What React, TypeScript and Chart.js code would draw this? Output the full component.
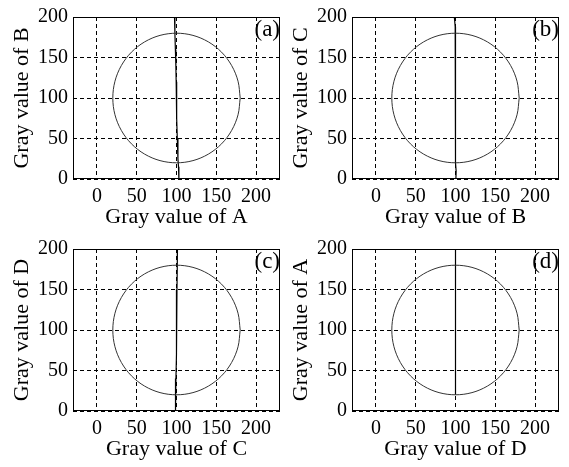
import React, { useEffect, useRef } from "react";
import { Chart, registerables } from "chart.js";

Chart.register(...registerables);

// ---- data ----
const xTicks = [0, 50, 100, 150, 200];
const yTicks = [0, 50, 100, 150, 200];

// circle: centre (100,100), radius 80
const circleX = [180, 177.3, 169.3, 156.6, 140, 120.7, 100, 79.3, 60, 43.4, 30.7, 22.7, 20, 22.7, 30.7, 43.4, 60, 79.3, 100, 120.7, 140, 156.6, 169.3, 177.3, 180];
const circleY = [100, 120.7, 140, 156.6, 169.3, 177.3, 180, 177.3, 169.3, 156.6, 140, 120.7, 100, 79.3, 60, 43.4, 30.7, 22.7, 20, 22.7, 30.7, 43.4, 60, 79.3, 100];

// near-vertical lines in each panel
const lineAX = [97.5, 98, 98.6, 99.2, 99.6, 100, 100.4, 101, 101.8, 102.5, 103];
const lineAY = [200, 180, 160, 140, 120, 100, 75, 50, 25, 15, 0];
const lineBX = [98.5, 99, 99.6, 100, 100, 100, 100.8, 100.5];
const lineBY = [200, 195, 188, 180, 100, 20, 10, 0];
const lineCX = [101.2, 101, 100.6, 100.2, 100, 99.7, 99.3, 98.9, 98.6];
const lineCY = [200, 180, 150, 130, 100, 70, 40, 15, 0];
const lineDX = [100, 100];
const lineDY = [200, 20];

const panelLabels = ["(a)", "(b)", "(c)", "(d)"];
const xTitles = ["Gray value of A", "Gray value of B", "Gray value of C", "Gray value of D"];
const yTitles = ["Gray value of B", "Gray value of C", "Gray value of D", "Gray value of A"];
const lineXs = [lineAX, lineBX, lineCX, lineDX];
const lineYs = [lineAY, lineBY, lineCY, lineDY];

const FONT = "'Liberation Serif', 'Times New Roman', serif";
const CW = 284;
const CH = 232;

const boxPlugin = {
  id: "boxAndLabel",
  afterDraw(chart: any) {
    const { ctx, chartArea } = chart;
    ctx.save();
    ctx.strokeStyle = "#000";
    ctx.lineWidth = 1;
    ctx.setLineDash([]);
    const l = Math.round(chartArea.left) + 0.5;
    const t = Math.round(chartArea.top) + 0.5;
    const r = Math.round(chartArea.right) - 0.5;
    const b = Math.round(chartArea.bottom) - 0.5;
    ctx.strokeRect(l, t, r - l, b - t);
    const label = chart.options.plugins.boxAndLabel?.text;
    if (label) {
      ctx.fillStyle = "#000";
      ctx.font = `23px ${FONT}`;
      ctx.textAlign = "right";
      ctx.textBaseline = "alphabetic";
      ctx.fillText(label, chartArea.right, chartArea.top + 19);
    }
    ctx.restore();
  },
};

function Panel({ idx, left, top }: { idx: number; left: number; top: number }) {
  const ref = useRef<HTMLCanvasElement | null>(null);
  useEffect(() => {
    if (!ref.current) return;
    const circle = circleX.map((x, i) => ({ x, y: circleY[i] }));
    const line = lineXs[idx].map((x, i) => ({ x, y: lineYs[idx][i] }));
    const chart = new Chart(ref.current, {
      type: "scatter",
      data: {
        datasets: [
          { data: circle, showLine: true, pointRadius: 0, borderColor: "#333", borderWidth: 1, fill: false, tension: 0.34 },
          { data: line, showLine: true, pointRadius: 0, borderColor: "#000", borderWidth: 1.2, fill: false },
        ],
      },
      options: {
        animation: false,
        responsive: false,
        events: [],
        layout: { padding: { top: 15, right: 4, left: 0, bottom: 0 } },
        plugins: {
          legend: { display: false },
          tooltip: { enabled: false },
          boxAndLabel: { text: panelLabels[idx] },
        } as any,
        scales: {
          x: {
            type: "linear",
            min: -30,
            max: 230,
            afterBuildTicks: (s: any) => {
              s.ticks = xTicks.map((v) => ({ value: v }));
            },
            afterFit: (s: any) => {
              s.height = 53;
            },
            grid: { color: "#000", lineWidth: 1, drawTicks: false },
            border: { display: false, dash: [4, 3] },
            ticks: { color: "#000", font: { family: FONT, size: 20 }, padding: 6, maxRotation: 0 },
            title: { display: true, text: xTitles[idx], color: "#000", font: { family: FONT, size: 22 }, padding: { top: 0, bottom: 2 } },
          },
          y: {
            type: "linear",
            min: 0,
            max: 200,
            afterBuildTicks: (s: any) => {
              s.ticks = yTicks.map((v) => ({ value: v }));
            },
            afterFit: (s: any) => {
              s.width = 73;
            },
            grid: { color: "#000", lineWidth: 1, drawTicks: false },
            border: { display: false, dash: [4, 3] },
            ticks: { color: "#000", font: { family: FONT, size: 20 }, padding: 5 },
            title: { display: true, text: yTitles[idx], color: "#000", font: { family: FONT, size: 22 }, padding: { top: 9, bottom: 0 } },
          },
        },
      },
      plugins: [boxPlugin],
    } as any);
    return () => chart.destroy();
  }, [idx]);
  return (
    <canvas
      ref={ref}
      width={CW}
      height={CH}
      style={{ position: "absolute", left, top, width: CW, height: CH }}
    />
  );
}

export default function App() {
  return (
    <div style={{ position: "fixed", left: 0, top: 0, width: 569, height: 467, background: "#fff" }}>
      <Panel idx={0} left={0} top={0} />
      <Panel idx={1} left={279} top={0} />
      <Panel idx={2} left={0} top={232} />
      <Panel idx={3} left={279} top={232} />
    </div>
  );
}
